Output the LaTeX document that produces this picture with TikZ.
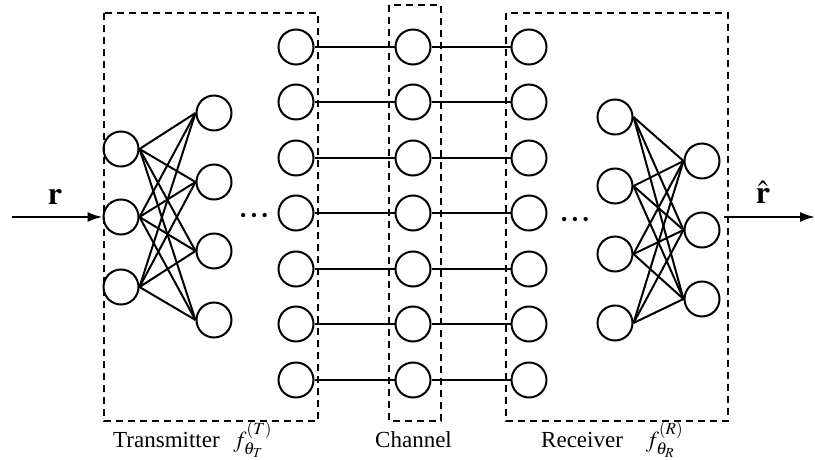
\documentclass[tikz,border=0pt]{standalone}
\usepackage{mathptmx}
\usepackage{fontspec}
\setmainfont{Liberation Serif}
\usetikzlibrary{arrows.meta}

\tikzset{
  neuron/.style={draw, circle, minimum size=35pt, inner sep=0pt, line width=2pt},
  link/.style={line width=2pt},
  box/.style={line width=2pt, dash pattern=on 7pt off 5pt},
  lbl/.style={anchor=base west, inner sep=0pt, font=\fontsize{23}{26}\selectfont},
  sym/.style={inner sep=0pt, font=\fontsize{32}{34}\selectfont},
  dots/.style={inner sep=0pt, font=\fontsize{18}{18}\selectfont}
}

\begin{document}
\begin{tikzpicture}[x=1pt,y=-1pt]
\useasboundingbox (0,0) rectangle (815,460);

% dashed boxes
\draw[box] (104,13) rectangle (318,421);
\draw[box] (389,5) rectangle (441,421);
\draw[box] (506,13) rectangle (728,421);

% transmitter
\foreach \k/\y in {1/149,2/217,3/287}
  \node[neuron] (ti\k) at (121,\y) {};
\foreach \k/\y in {1/113,2/182,3/251,4/320}
  \node[neuron] (th\k) at (214,\y) {};
\foreach \i in {1,2,3}
  \foreach \j in {1,...,4}
    \draw[link] (ti\i.east) -- (th\j.west);

% channel
\foreach \k/\y in {1/47,2/102,3/158,4/213,5/269,6/324,7/380} {
  \node[neuron] (tx\k) at (296,\y) {};
  \node[neuron] (ch\k) at (413,\y) {};
  \node[neuron] (rx\k) at (529,\y) {};
  \draw[link] (tx\k.east) -- (ch\k.west);
  \draw[link] (ch\k.east) -- (rx\k.west);
}

% receiver
\foreach \k/\y in {1/117,2/186,3/254,4/323}
  \node[neuron] (rh\k) at (615,\y) {};
\foreach \k/\y in {1/161,2/230,3/299}
  \node[neuron] (ro\k) at (702,\y) {};
\foreach \i in {1,...,4}
  \foreach \j in {1,2,3}
    \draw[link] (rh\i.east) -- (ro\j.west);

\node[dots] (dotl) at (254,217) {•\hspace{4.5pt}•\hspace{4.5pt}•};
\node[dots] (dotr) at (575,221) {•\hspace{4.5pt}•\hspace{4.5pt}•};

% input and output
\coordinate (rin) at (12,217);
\draw[link,-{Latex[length=15pt,width=10pt]}] (rin) -- (ti2.west);
\node[sym] (r) at (55,197) {$\mathbf{r}$};
\coordinate (rout) at (724,217);
\coordinate (rend) at (815,217);
\draw[link,-{Latex[length=15pt,width=10pt]}] (rout) -- (rend);
\node[sym] (rhat) at (763,192) {$\hat{\mathbf{r}}$};

% labels
\node[lbl] (tlab) at (113,447) {Transmitter\hspace{0.6em}$f^{(T)}_{\theta_T}$};
\node[lbl] (clab) at (375,447) {Channel};
\node[lbl] (rlab) at (541,447) {Receiver\quad$f^{(R)}_{\theta_R}$};

\end{tikzpicture}
\end{document}
